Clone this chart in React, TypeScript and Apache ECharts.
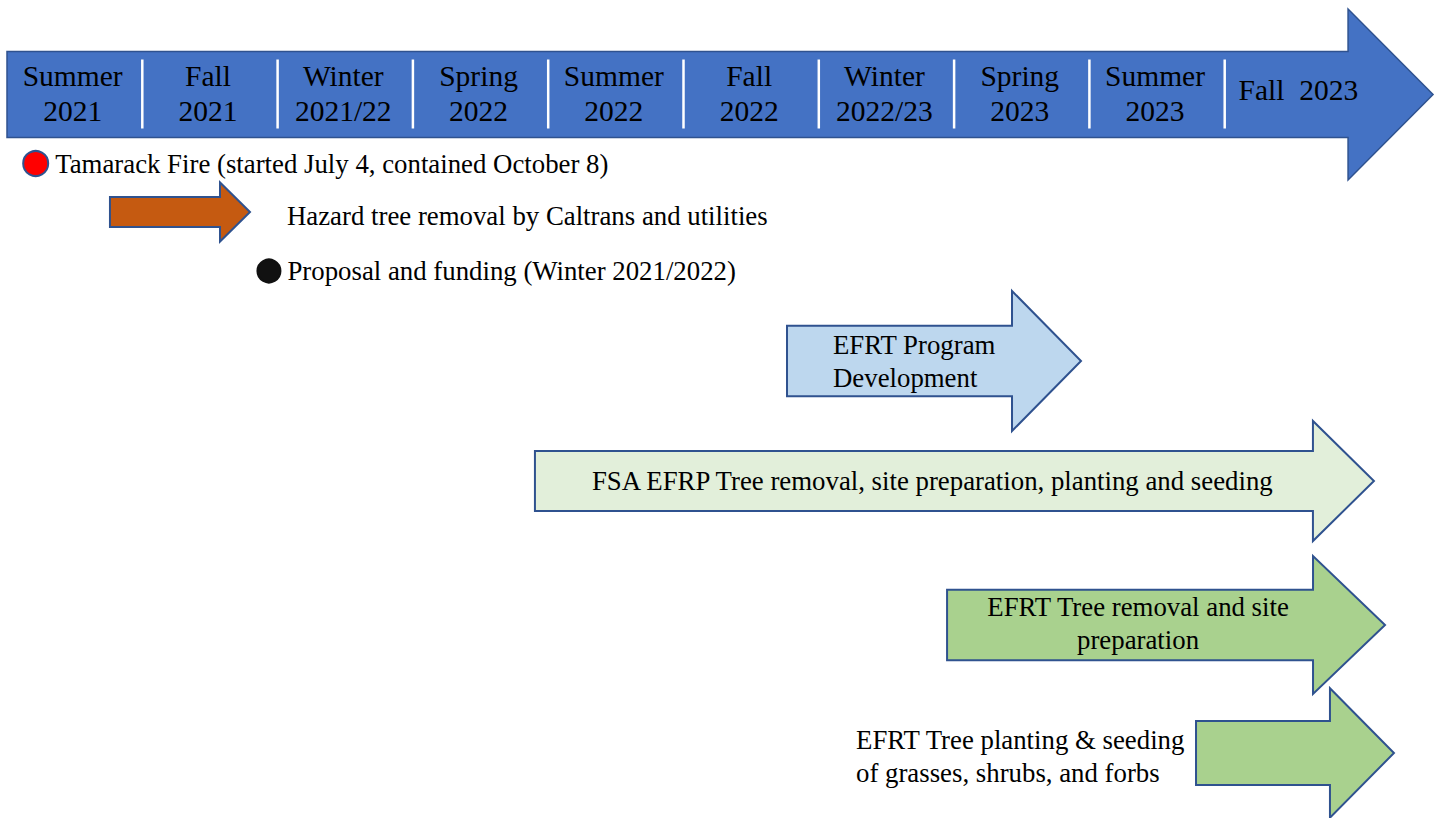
import { useEffect, useRef } from "react";
import * as echarts from "echarts";

// ---- Data -------------------------------------------------------------
// Time scale: 1 unit = 1 season, 0 = start of Summer 2021
const seasonLabels = [
  "Summer\n2021",
  "Fall\n2021",
  "Winter\n2021/22",
  "Spring\n2022",
  "Summer\n2022",
  "Fall\n2022",
  "Winter\n2022/23",
  "Spring\n2023",
  "Summer\n2023",
  "Fall  2023",
];
const timelineStart = 0;
const timelineEnd = 10.54;

const eventNames = [
  "Tamarack Fire (started July 4, contained October 8)",
  "Proposal and funding (Winter 2021/2022)",
];
const eventTimes = [0.212, 1.936];

const activityNames = [
  "Hazard tree removal by Caltrans and utilities",
  "EFRT Program\nDevelopment",
  "FSA EFRP Tree removal, site preparation, planting and seeding",
  "EFRT Tree removal and site\npreparation",
  "EFRT Tree planting & seeding\nof grasses, shrubs, and forbs",
];
const activityStarts = [0.761, 5.765, 3.902, 6.948, 8.788];
const activityEnds = [1.796, 7.938, 10.103, 10.185, 10.251];

// ---- Layout & style (kept apart from data) ----------------------------
const FONT = "Liberation Serif";
const TEXT_SIZE = 26.8;
const SEASON_SIZE = 29.5;
const OUTLINE = "#2F528F";
const timelineLane = 94.5;
const eventLanes = [163.5, 271];
const activityLanes = [212, 361, 481, 625, 753];
const eventStyles = [
  { color: "#FF0000", border: OUTLINE, size: 25 },
  { color: "#111111", border: "#111111", size: 23 },
];
const timelineStyle = { fill: "#4472C4", stroke: OUTLINE, lw: 1.5, head: 85, shaft: 43, headHalf: 85.5 };
const activityStyles = [
  { fill: "#C55A11", stroke: OUTLINE, lw: 2, head: 30, shaft: 15, headHalf: 29.5 },
  { fill: "#BDD7EE", stroke: OUTLINE, lw: 2, head: 69, shaft: 35.3, headHalf: 70 },
  { fill: "#E2EFDA", stroke: OUTLINE, lw: 2, head: 61, shaft: 30, headHalf: 60 },
  { fill: "#A9D18E", stroke: OUTLINE, lw: 2, head: 72, shaft: 35.3, headHalf: 69 },
  { fill: "#A9D18E", stroke: OUTLINE, lw: 2, head: 64, shaft: 32, headHalf: 64.7 },
];
// label anchor: "tip" (after arrow tip), "start" (from arrow start)
const activityLabelLayout = [
  { from: "tip", dx: 37, dy: 4, align: "left" },
  { from: "start", dx: 46, dy: 0.5, align: "left" },
  { from: "start", dx: 57, dy: 0, align: "left" },
  { from: "start", dx: 191, dy: -2, align: "center" },
  { from: "start", dx: -340, dy: 3, align: "left" },
];

function arrowPoints(xs: number, xt: number, cy: number, st: any) {
  const xb = xt - st.head;
  return [
    [xs, cy - st.shaft],
    [xb, cy - st.shaft],
    [xb, cy - st.headHalf],
    [xt, cy],
    [xb, cy + st.headHalf],
    [xb, cy + st.shaft],
    [xs, cy + st.shaft],
  ];
}

export default function App() {
  const ref = useRef<HTMLDivElement>(null);

  useEffect(() => {
    if (!ref.current) return;
    const chart = echarts.init(ref.current, undefined, { renderer: "svg" });

    const option: any = {
      animation: false,
      backgroundColor: "#ffffff",
      textStyle: { fontFamily: FONT },
      grid: { left: 7, right: 80, top: 0, bottom: 0 },
      xAxis: { type: "value", min: 0, max: 10, show: false },
      yAxis: { type: "value", min: 0, max: 818, inverse: true, show: false },
      series: [
        {
          type: "custom",
          name: "timeline",
          clip: false,
          data: [[timelineStart, timelineEnd, timelineLane]],
          renderItem: (_p: any, api: any) => {
            const s = api.coord([api.value(0), api.value(2)]);
            const e = api.coord([api.value(1), api.value(2)]);
            return {
              type: "polygon",
              shape: { points: arrowPoints(s[0], e[0], s[1], timelineStyle) },
              style: { fill: timelineStyle.fill, stroke: timelineStyle.stroke, lineWidth: timelineStyle.lw },
            };
          },
        },
        {
          type: "custom",
          name: "seasons",
          clip: false,
          data: seasonLabels.map((_, i) => [i, i + 1, timelineLane]),
          renderItem: (p: any, api: any) => {
            const i = p.dataIndex;
            const a = api.coord([api.value(0), api.value(2)]);
            const b = api.coord([api.value(1), api.value(2)]);
            const cy = a[1];
            const last = i === seasonLabels.length - 1;
            const children: any[] = [
              {
                type: "text",
                style: {
                  text: seasonLabels[i],
                  x: (a[0] + b[0]) / 2 + (last ? 6 : -2),
                  y: cy - (last ? 5 : 1.5),
                  align: "center",
                  verticalAlign: "middle",
                  fontSize: SEASON_SIZE,
                  fontFamily: FONT,
                  lineHeight: 35,
                  fill: "#000000",
                },
              },
            ];
            if (!last) {
              children.push({
                type: "line",
                shape: { x1: b[0], y1: cy - 35, x2: b[0], y2: cy + 34 },
                style: { stroke: "#ffffff", lineWidth: 2.5 },
              });
            }
            return { type: "group", children };
          },
        },
        {
          type: "custom",
          name: "activities",
          clip: false,
          data: activityNames.map((_, i) => [activityStarts[i], activityEnds[i], activityLanes[i]]),
          renderItem: (p: any, api: any) => {
            const i = p.dataIndex;
            const st = activityStyles[i];
            const s = api.coord([api.value(0), api.value(2)]);
            const e = api.coord([api.value(1), api.value(2)]);
            const cy = s[1];
            const lb = activityLabelLayout[i];
            const lx = (lb.from === "tip" ? e[0] : s[0]) + lb.dx;
            return {
              type: "group",
              children: [
                {
                  type: "polygon",
                  shape: { points: arrowPoints(s[0], e[0], cy, st) },
                  style: { fill: st.fill, stroke: st.stroke, lineWidth: st.lw },
                },
                {
                  type: "text",
                  style: {
                    text: activityNames[i],
                    x: lx,
                    y: cy + lb.dy,
                    align: lb.align,
                    verticalAlign: "middle",
                    fontSize: TEXT_SIZE,
                    fontFamily: FONT,
                    lineHeight: 33,
                    fill: "#000000",
                  },
                },
              ],
            };
          },
        },
        {
          type: "scatter",
          name: "events",
          clip: false,
          data: eventNames.map((n, i) => ({
            name: n,
            value: [eventTimes[i], eventLanes[i]],
            symbolSize: eventStyles[i].size,
            itemStyle: {
              color: eventStyles[i].color,
              borderColor: eventStyles[i].border,
              borderWidth: 2,
              opacity: 1,
            },
          })),
          label: {
            show: true,
            position: "right",
            distance: 6,
            formatter: "{b}",
            color: "#000000",
            fontSize: TEXT_SIZE,
            fontFamily: FONT,
          },
          emphasis: { disabled: true },
        },
      ],
    };

    chart.setOption(option);
    return () => chart.dispose();
  }, []);

  return (
    <div
      ref={ref}
      style={{ position: "absolute", left: 0, top: 0, width: 1440, height: 818, background: "#fff" }}
    />
  );
}
